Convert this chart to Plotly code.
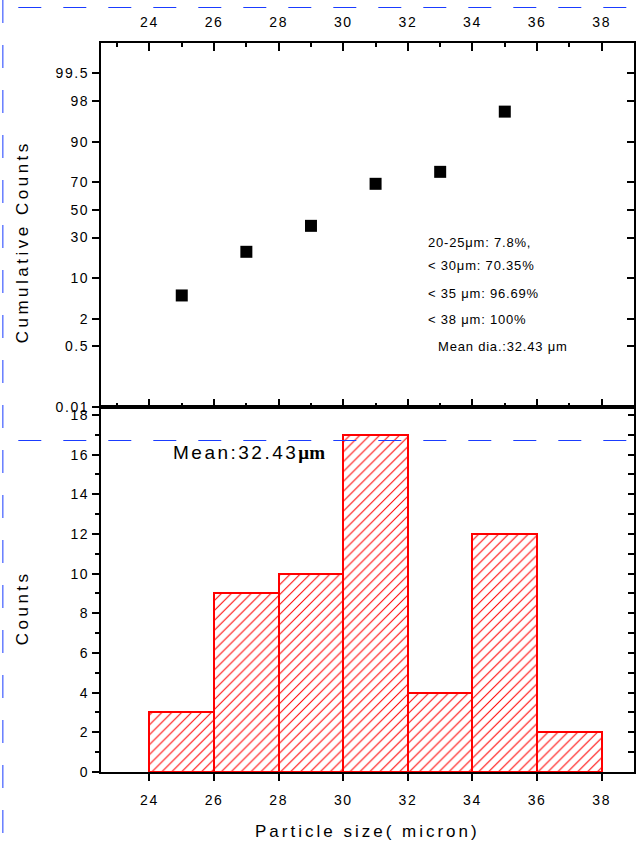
import statistics
import plotly.graph_objects as go

# ---------------- data ----------------
bin_left = [24, 26, 28, 30, 32, 34, 36]
bin_width = 2
counts = [3, 9, 10, 17, 4, 12, 2]

cum_x = [25, 27, 29, 31, 33, 35]
cum_pct = [5.3, 21.4, 38.1, 68.8, 76.3, 96.8]

prob_ticks = [0.01, 0.5, 2, 10, 30, 50, 70, 90, 98, 99.5]
prob_labels = ["0.01", "0.5", "2", "10", "30", "50", "70", "90", "98", "99.5"]

x_ticks = [24, 26, 28, 30, 32, 34, 36, 38]
x_labels = ["24", "26", "28", "30", "32", "34", "36", "38"]

count_ticks = [0, 2, 4, 6, 8, 10, 12, 14, 16, 18]
count_labels = ["0", "2", "4", "6", "8", "10", "12", "14", "16", "18"]

info_lines = ["20-25\u03bcm: 7.8%,", "< 30\u03bcm: 70.35%", "< 35 \u03bcm: 96.69%", "< 38 \u03bcm: 100%"]
mean_line = "Mean dia.:32.43 \u03bcm"

# ---------------- helpers ----------------
nd = statistics.NormalDist()


def probit(p):
    return nd.inv_cdf(p / 100.0)


W, H = 637, 848
L, R, T, B = 101, 1, 43, 76
PW, PH = W - L - R, H - T - B


def px(xp):
    return (xp - L) / PW


def py(yp):
    return (H - B - yp) / PH


def ls(text, sp):
    return f'<span style="letter-spacing:{sp}px">{text}</span>'


split = py(407)
FONT = "Liberation Sans, Arial, sans-serif"
xr = [22.5, 39]
yr_top = [probit(0.01) - 0.002, 3.147]
TSP = 1.6  # tick label letter spacing

fig = go.Figure()

fig.add_trace(go.Scatter(
    x=cum_x, y=[probit(p) for p in cum_pct], xaxis="x", yaxis="y",
    mode="markers", marker=dict(symbol="square", size=12, color="black"),
    showlegend=False, hoverinfo="skip"))

fig.add_trace(go.Bar(
    x=[b + bin_width / 2 for b in bin_left], y=counts, width=bin_width,
    xaxis="x2", yaxis="y2",
    marker=dict(color="white", line=dict(color="red", width=2),
                pattern=dict(shape="/", fgcolor="red", bgcolor="white",
                             size=7, solidity=0.15, fillmode="replace")),
    showlegend=False, hoverinfo="skip"))

# empty traces so the right-side overlay axes are drawn
fig.add_trace(go.Scatter(x=[], y=[], xaxis="x", yaxis="y3", showlegend=False))
fig.add_trace(go.Scatter(x=[], y=[], xaxis="x2", yaxis="y4", showlegend=False))

tickfont = dict(family=FONT, size=14, color="black")
common = dict(showgrid=False, zeroline=False, showline=True, linewidth=2,
              linecolor="black", tickcolor="black", tickwidth=1.5, tickfont=tickfont)

xt = dict(tickmode="array", tickvals=x_ticks, ticktext=[ls(t, TSP) for t in x_labels])

fig.update_layout(
    width=W, height=H,
    margin=dict(l=L, r=R, t=T, b=B, pad=0),
    paper_bgcolor="white", plot_bgcolor="white",
    bargap=0,
    xaxis=dict(domain=[0, 1], anchor="y", side="top", range=xr, **xt,
               ticks="inside", ticklen=8, mirror="ticks", ticklabelstandoff=8,
               minor=dict(tick0=23, dtick=1, ticks="inside", ticklen=4, tickwidth=1.5, tickcolor="black"),
               **common),
    yaxis=dict(domain=[split, 1], anchor="x", range=yr_top,
               tickmode="array", tickvals=[probit(p) for p in prob_ticks],
               ticktext=[ls(t, TSP) for t in prob_labels],
               ticks="outside", ticklen=7, mirror=True, **common),
    yaxis3=dict(overlaying="y", anchor="x", side="right", range=yr_top,
                tickmode="array", tickvals=[probit(p) for p in prob_ticks],
                ticks="inside", ticklen=7, tickwidth=1.5, tickcolor="black",
                showticklabels=False, showgrid=False, zeroline=False, showline=False),
    xaxis2=dict(domain=[0, 1], anchor="y2", range=xr, **xt,
                ticks="outside", ticklen=7, mirror=True, ticklabelstandoff=7, **common),
    yaxis2=dict(domain=[0, split], anchor="x2", range=[0, 18.4],
                tickmode="array", tickvals=count_ticks, ticktext=[ls(t, TSP) for t in count_labels],
                ticks="outside", ticklen=7, mirror=True,
                minor=dict(tick0=1, dtick=1, ticks="outside", ticklen=4, tickwidth=1.5, tickcolor="black"),
                **common),
    yaxis4=dict(overlaying="y2", anchor="x2", side="right", range=[0, 18.4], tick0=0, dtick=1,
                ticks="inside", ticklen=6, tickwidth=1.5, tickcolor="black",
                showticklabels=False, showgrid=False, zeroline=False, showline=False),
)

annos = []
title_font = dict(family=FONT, size=17, color="black")
# axis titles
annos.append(dict(x=px(22), y=py(242), xref="paper", yref="paper", text=ls("Cumulative Counts", 3.5),
                  textangle=-90, xanchor="center", yanchor="middle", showarrow=False, font=title_font))
annos.append(dict(x=px(22), y=py(608), xref="paper", yref="paper", text=ls("Counts", 3.5),
                  textangle=-90, xanchor="center", yanchor="middle", showarrow=False, font=title_font))
annos.append(dict(x=px(368), y=py(831), xref="paper", yref="paper", text=ls("Particle size( micron)", 3),
                  xanchor="center", yanchor="middle", showarrow=False, font=title_font))
# info text
info_font = dict(family=FONT, size=13, color="black")
for txt, yy in zip(info_lines, [242, 265, 293, 319]):
    annos.append(dict(x=px(427), y=py(yy), xref="paper", yref="paper", text=ls(txt, 0.8),
                      xanchor="left", yanchor="middle", showarrow=False, font=info_font))
annos.append(dict(x=px(437), y=py(347), xref="paper", yref="paper", text=ls(mean_line, 0.8),
                  xanchor="left", yanchor="middle", showarrow=False, font=info_font))
# mean annotation in histogram
annos.append(dict(x=px(171), y=py(452), xref="paper", yref="paper",
                  text=ls("Mean:32.43", 2.5) + '<b><span style="font-family:serif">\u03bcm</span></b>',
                  xanchor="left", yanchor="middle", showarrow=False,
                  font=dict(family=FONT, size=19, color="black")))
fig.update_layout(annotations=annos)

# blue dashed decoration lines
blue = dict(color="#1a3cff", width=1, dash="23px,22px")
fig.update_layout(shapes=[
    dict(type="line", xref="paper", yref="paper", x0=px(18), x1=px(W + 5), y0=py(7.5), y1=py(7.5), line=blue, layer="above"),
    dict(type="line", xref="paper", yref="paper", x0=px(18), x1=px(W + 5), y0=py(440.5), y1=py(440.5), line=blue, layer="above"),
    dict(type="line", xref="paper", yref="paper", x0=px(2.5), x1=px(2.5), y0=py(0), y1=py(H), line=blue, layer="above"),
])

fig.write_html("out.html")
